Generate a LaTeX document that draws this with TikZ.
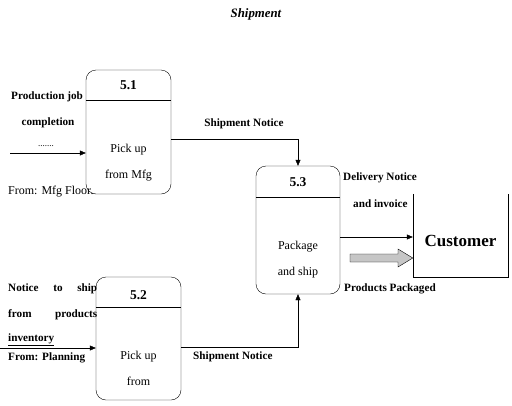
\documentclass[tikz,border=0pt]{standalone}
\usepackage{fontspec}
\setmainfont{Liberation Serif}
\usetikzlibrary{arrows.meta,positioning}

\begin{document}
\begin{tikzpicture}[x=1pt, y=-1pt, >={Triangle[length=6pt,width=5pt]},
  proc/.style={draw, rectangle, rounded corners=10pt, thin},
  lbl/.style={font=\fontsize{11.2}{12}\selectfont\bfseries, inner sep=0pt},
  plain/.style={font=\fontsize{12}{13}\selectfont, inner sep=0pt},
  num/.style={font=\fontsize{13.5}{14}\selectfont\bfseries, inner sep=0pt},
  flow/.style={->, thin}]
  \useasboundingbox (0,0) rectangle (512,405);
  \node[font=\fontsize{12.8}{14}\selectfont\bfseries\itshape] (title) at (256,14) {Shipment};
  % processes
  \node[proc, minimum width=85pt, minimum height=124pt] (p51) at (128.5,132) {};
  \node[proc, minimum width=85pt, minimum height=123pt] (p52) at (138.5,338.5) {};
  \node[proc, minimum width=84pt, minimum height=128pt] (p53) at (298,230) {};
  \draw (p51.west |- 0,100) -- (p51.east |- 0,100);
  \draw (p52.west |- 0,307) -- (p52.east |- 0,307);
  \draw (p53.west |- 0,197) -- (p53.east |- 0,197);
  \node[num] (n51) at (128.5,85) {5.1};
  \node[num] (n52) at (138.5,295) {5.2};
  \node[num] (n53) at (298,182) {5.3};
  \node[plain] (t51a) at (128.5,150) {Pick up};
  \node[plain] (t51b) at (128.5,176) {from Mfg};
  \node[plain] (t52a) at (138.5,357) {Pick up};
  \node[plain] (t52b) at (138.5,381) {from};
  \node[plain] (t53a) at (298,247) {Package};
  \node[plain] (t53b) at (298,273) {and ship};
  % external entity
  \node[minimum width=95pt, minimum height=83pt] (cust) at (460.5,235.5) {};
  \node[font=\fontsize{17}{18}\selectfont\bfseries, inner sep=0pt] (ctext) at (460.5,241) {Customer};
  \draw (cust.north west) -- (cust.south west) -- (cust.south east) -- (cust.north east);
  % inputs
  \coordinate (in1) at (10,153);
  \coordinate (in2) at (0,348);
  \draw[flow] (in1) -- (p51.west |- in1);
  \draw[flow] (in2) -- (p52.west |- in2);
  \node[lbl, anchor=west] (l1) at (11,97) {Production job};
  \node[lbl] (l2) at (48,123) {completion};
  \node[plain, font=\fontsize{9}{10}\selectfont] (l3) at (46,146) {.......};
  \node[plain, anchor=west] (l4) at (8,192) {From: Mfg Floor.};
  \node[lbl, anchor=west, text width=89pt] (l5) at (8,289) {Notice\hfill to\hfill ship};
  \node[lbl, anchor=west, text width=89pt] (l6) at (8,315) {from\hfill products};
  \node[lbl, anchor=west] (l7) at (8,340) {\underline{inventory}};
  \node[lbl, anchor=west] (l8) at (8,358) {From: Planning};
  % flows between processes
  \draw[flow] (p51.east |- 0,139) -| (p53.north);
  \draw[flow] (p52.east |- 0,347) -| (p53.south);
  \node[lbl] (s1) at (244,124) {Shipment Notice};
  \node[lbl, anchor=west] (s2) at (193,357) {Shipment Notice};
  \draw[flow] (p53.east |- 0,237) -- (cust.west |- 0,237);
  \node[lbl, anchor=west] (d1) at (343,178) {Delivery Notice};
  \node[lbl, anchor=west] (d2) at (353,204) {and invoice};
  \draw[fill=gray!45, thin] (350,254) -- (398,254) -- (398,249) -- (cust.west |- 0,258)
    -- (398,267) -- (398,262) -- (350,262) -- cycle;
  \node[lbl, anchor=west] (pp) at (344,289) {Products Packaged};
\end{tikzpicture}
\end{document}
